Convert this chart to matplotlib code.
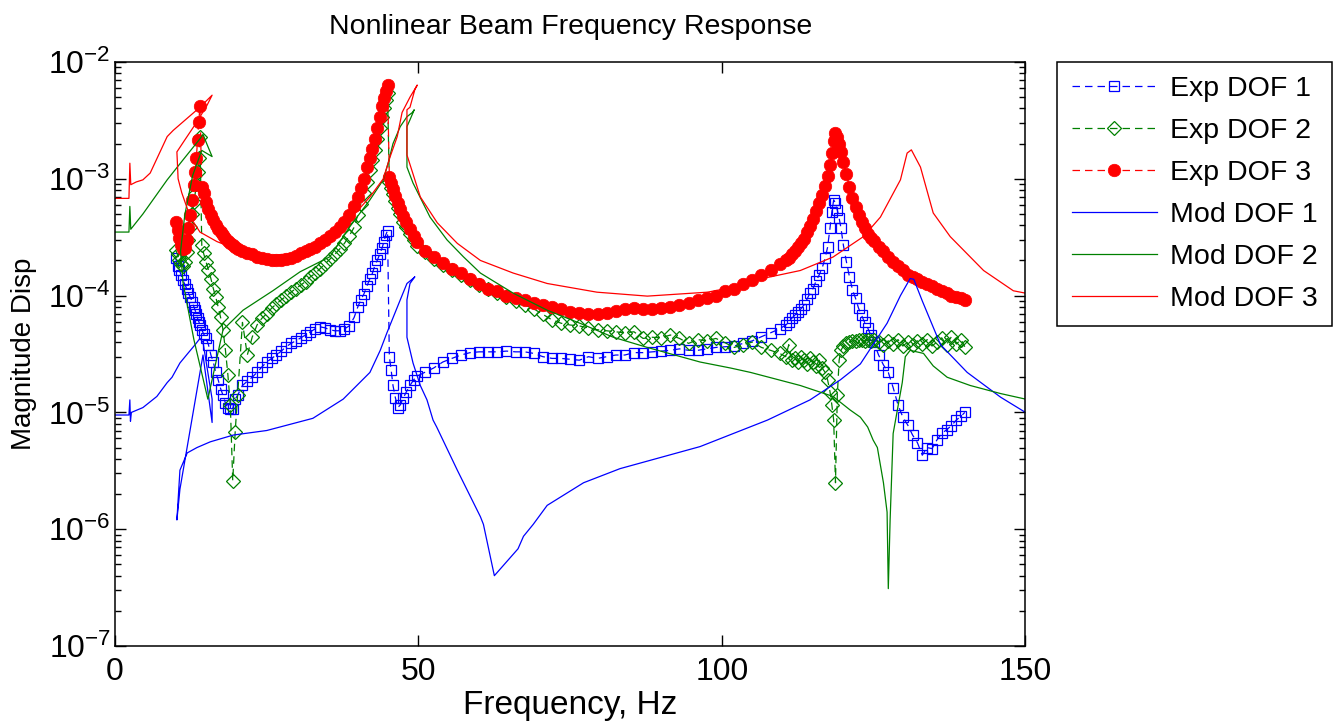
import matplotlib
matplotlib.use("Agg")
import matplotlib.pyplot as plt
from matplotlib.ticker import LogLocator, NullLocator, NullFormatter, FixedLocator

# experimental frequencies (shared by the three measured DOFs)
freq_exp = [
    10.0, 10.3, 10.6, 10.9, 11.2, 11.5, 11.8, 12.1, 12.4, 12.7, 13.0, 13.2, 13.4, 13.6, 13.8, 14.0,
    14.3, 14.6, 15.0, 15.4, 15.8, 16.2, 16.6, 17.0, 17.4, 17.8, 18.2, 18.6, 19.0, 19.4, 19.8,
    20.2, 21.0, 21.8, 22.6, 23.4, 24.2, 25.0, 25.8, 26.6, 27.4, 28.2, 29.0, 29.8, 30.6, 31.4,
    32.2, 33.0, 33.8, 34.6, 35.4, 36.2, 37.0, 37.8, 38.6, 39.4,
    40.0, 40.5, 41.0, 41.5, 42.0, 42.4, 42.8, 43.2, 43.6, 44.0, 44.3, 44.6, 44.9,
    45.2, 45.5, 45.8, 46.2, 46.6, 47.0, 47.5, 48.0, 48.6, 49.2, 49.8,
    51.0, 52.5, 54.0, 55.5, 57.0, 58.5, 60.0, 61.5, 63.0, 64.5, 66.0, 67.5, 69.0, 70.5, 72.0,
    73.5, 75.0, 76.5, 78.0, 79.5, 81.0, 82.5, 84.0, 85.5, 87.0, 88.5, 90.0, 91.5, 93.0, 94.5,
    96.0, 97.5, 99.0, 100.5, 102.0, 103.5, 105.0, 106.5, 108.0, 109.5,
    110.5, 111.0, 111.5, 112.0, 112.5, 113.0, 113.5, 114.0, 114.5, 115.0, 115.5, 116.0, 116.5,
    117.0, 117.4, 117.8, 118.1, 118.4, 118.7, 119.0, 119.3, 119.6, 120.0, 120.5, 121.0, 121.5,
    122.0, 122.5, 123.0, 123.5, 124.0, 124.5, 125.0,
    125.8, 126.6, 127.4, 128.2, 129.0, 129.8, 130.6, 131.4, 132.2, 133.0, 133.8, 134.6, 135.4,
    136.2, 137.0, 137.8, 138.6, 139.4, 140.0,
]

exp_dof1 = [
    2.1e-4, 1.8e-4, 1.65e-4, 1.5e-4, 1.35e-4, 1.25e-4, 1.15e-4, 1.05e-4, 9.7e-5, 8.9e-5, 8.0e-5, 7.5e-5, 7.0e-5, 6.4e-5, 6.0e-5, 5.6e-5,
    5.1e-5, 4.7e-5, 4.35e-5, 3.8e-5, 3.1e-5, 2.7e-5, 2.2e-5, 1.9e-5, 1.6e-5, 1.4e-5, 1.2e-5, 1.1e-5, 1.07e-5, 1.08e-5, 1.3e-5,
    1.4e-5, 1.7e-5, 1.85e-5, 2.0e-5, 2.2e-5, 2.45e-5, 2.7e-5, 2.9e-5, 3.1e-5, 3.35e-5, 3.65e-5, 3.9e-5, 4.1e-5, 4.35e-5, 4.6e-5,
    4.9e-5, 5.2e-5, 5.4e-5, 5.3e-5, 5.1e-5, 5.0e-5, 5.0e-5, 5.2e-5, 5.5e-5, 6.5e-5,
    8.0e-5, 9.2e-5, 1.03e-4, 1.2e-4, 1.4e-4, 1.55e-4, 1.8e-4, 2.0e-4, 2.25e-4, 2.55e-4, 2.9e-4, 3.3e-4, 3.6e-4,
    3.0e-5, 2.3e-5, 1.7e-5, 1.33e-5, 1.1e-5, 1.16e-5, 1.33e-5, 1.5e-5, 1.7e-5, 1.9e-5, 2.05e-5,
    2.2e-5, 2.4e-5, 2.7e-5, 2.9e-5, 3.1e-5, 3.25e-5, 3.3e-5, 3.3e-5, 3.3e-5, 3.35e-5, 3.3e-5, 3.3e-5, 3.2e-5, 3.0e-5, 2.9e-5,
    2.9e-5, 2.85e-5, 2.8e-5, 3.0e-5, 2.9e-5, 3.0e-5, 3.1e-5, 3.1e-5, 3.25e-5, 3.25e-5, 3.3e-5, 3.35e-5, 3.4e-5, 3.5e-5, 3.4e-5,
    3.4e-5, 3.5e-5, 3.6e-5, 3.65e-5, 3.7e-5, 3.9e-5, 4.1e-5, 4.45e-5, 4.8e-5, 5.2e-5,
    5.6e-5, 5.9e-5, 6.4e-5, 6.8e-5, 7.2e-5, 7.7e-5, 8.3e-5, 9.3e-5, 1.05e-4, 1.15e-4, 1.33e-4, 1.5e-4, 1.72e-4,
    2.1e-4, 2.6e-4, 3.8e-4, 5.2e-4, 6.6e-4, 6.2e-4, 5.4e-4, 4.6e-4, 3.8e-4, 2.7e-4, 1.95e-4, 1.45e-4, 1.12e-4,
    9.5e-5, 7.8e-5, 6.8e-5, 5.9e-5, 5.3e-5, 4.6e-5, 4.0e-5,
    3.1e-5, 2.55e-5, 2.2e-5, 1.63e-5, 1.16e-5, 9.1e-6, 7.8e-6, 6.4e-6, 5.5e-6, 4.3e-6, 5.0e-6, 4.9e-6, 5.8e-6,
    6.6e-6, 7.1e-6, 7.7e-6, 8.6e-6, 9.3e-6, 1.0e-5,
]

exp_dof2 = [
    2.45e-4, 2.25e-4, 2.0e-4, 1.85e-4, 1.8e-4, 1.95e-4, 2.35e-4, 3.0e-4, 3.85e-4, 5.0e-4, 6.3e-4, 7.4e-4, 9.0e-4, 1.15e-3, 1.5e-3, 2.3e-3,
    2.7e-4, 2.3e-4, 1.95e-4, 1.65e-4, 1.4e-4, 1.15e-4, 9.7e-5, 8.0e-5, 6.5e-5, 5.1e-5, 3.4e-5, 2.1e-5, 1.16e-5, 2.6e-6, 6.8e-6,
    1.4e-5, 5.9e-5, 3.1e-5, 4.4e-5, 5.6e-5, 6.4e-5, 7.0e-5, 7.8e-5, 8.5e-5, 9.2e-5, 9.9e-5, 1.07e-4, 1.15e-4, 1.23e-4, 1.32e-4,
    1.45e-4, 1.55e-4, 1.7e-4, 1.87e-4, 2.05e-4, 2.25e-4, 2.5e-4, 2.8e-4, 3.25e-4, 3.85e-4,
    4.9e-4, 6.1e-4, 7.6e-4, 9.4e-4, 1.2e-3, 1.45e-3, 1.77e-3, 2.2e-3, 2.7e-3, 3.4e-3, 4.0e-3, 4.7e-3, 5.4e-3,
    9.4e-4, 8.3e-4, 7.4e-4, 6.5e-4, 5.6e-4, 5.0e-4, 4.3e-4, 3.9e-4, 3.4e-4, 3.0e-4, 2.65e-4,
    2.35e-4, 2.05e-4, 1.83e-4, 1.65e-4, 1.5e-4, 1.36e-4, 1.23e-4, 1.13e-4, 1.05e-4, 9.7e-5, 9.0e-5, 8.3e-5, 7.7e-5, 6.9e-5, 6.2e-5,
    5.8e-5, 5.6e-5, 5.5e-5, 5.3e-5, 5.1e-5, 5.0e-5, 4.9e-5, 4.8e-5, 4.9e-5, 4.3e-5, 4.4e-5, 4.35e-5, 4.6e-5, 4.3e-5, 3.9e-5,
    4.2e-5, 4.1e-5, 4.3e-5, 3.95e-5, 3.6e-5, 3.8e-5, 4.0e-5, 3.6e-5, 3.4e-5, 3.2e-5,
    3.0e-5, 3.8e-5, 2.8e-5, 2.9e-5, 2.7e-5, 3.0e-5, 2.8e-5, 2.6e-5, 2.9e-5, 2.7e-5, 2.5e-5, 2.8e-5, 2.4e-5,
    2.2e-5, 1.9e-5, 1.5e-5, 1.16e-5, 8.6e-6, 2.5e-6, 1.4e-5, 2.8e-5, 3.4e-5, 3.7e-5, 3.95e-5, 4.0e-5, 4.1e-5,
    4.1e-5, 4.2e-5, 4.2e-5, 4.1e-5, 4.2e-5, 4.1e-5, 4.2e-5,
    4.0e-5, 3.8e-5, 4.1e-5, 3.85e-5, 4.2e-5, 3.7e-5, 4.0e-5, 3.8e-5, 4.1e-5, 3.85e-5, 4.2e-5, 3.7e-5, 4.0e-5,
    4.35e-5, 3.8e-5, 4.45e-5, 3.85e-5, 4.2e-5, 3.65e-5,
]

exp_dof3 = [
    4.3e-4, 3.65e-4, 3.1e-4, 2.7e-4, 2.5e-4, 2.55e-4, 3.0e-4, 3.8e-4, 4.9e-4, 6.6e-4, 8.9e-4, 1.15e-3, 1.5e-3, 2.15e-3, 3.05e-3, 4.2e-3,
    8.5e-4, 7.6e-4, 6.3e-4, 5.5e-4, 4.9e-4, 4.45e-4, 4.0e-4, 3.7e-4, 3.5e-4, 3.3e-4, 3.1e-4, 2.95e-4, 2.8e-4, 2.7e-4, 2.6e-4,
    2.5e-4, 2.4e-4, 2.3e-4, 2.25e-4, 2.15e-4, 2.1e-4, 2.05e-4, 2.0e-4, 2.0e-4, 2.0e-4, 2.05e-4, 2.1e-4, 2.2e-4, 2.3e-4, 2.4e-4,
    2.5e-4, 2.6e-4, 2.8e-4, 3.0e-4, 3.25e-4, 3.5e-4, 3.85e-4, 4.25e-4, 4.9e-4, 5.85e-4,
    7.0e-4, 8.3e-4, 1.0e-3, 1.25e-3, 1.5e-3, 1.8e-3, 2.2e-3, 2.7e-3, 3.4e-3, 4.2e-3, 4.9e-3, 5.65e-3, 6.35e-3,
    1.04e-3, 9.2e-4, 8.2e-4, 7.1e-4, 6.2e-4, 5.5e-4, 4.8e-4, 4.25e-4, 3.7e-4, 3.25e-4, 2.9e-4,
    2.4e-4, 2.15e-4, 1.9e-4, 1.7e-4, 1.55e-4, 1.4e-4, 1.25e-4, 1.15e-4, 1.1e-4, 1.0e-4, 9.6e-5, 9.2e-5, 8.6e-5, 8.3e-5, 8.0e-5,
    7.7e-5, 7.2e-5, 7.1e-5, 7.0e-5, 7.0e-5, 7.1e-5, 7.4e-5, 7.7e-5, 7.8e-5, 7.7e-5, 7.7e-5, 7.8e-5, 8.0e-5, 8.3e-5, 8.6e-5,
    9.2e-5, 9.6e-5, 1.0e-4, 1.1e-4, 1.15e-4, 1.25e-4, 1.35e-4, 1.5e-4, 1.65e-4, 1.85e-4,
    2.0e-4, 2.1e-4, 2.25e-4, 2.4e-4, 2.6e-4, 2.8e-4, 3.05e-4, 3.5e-4, 3.95e-4, 4.5e-4, 5.3e-4, 6.2e-4, 7.3e-4,
    8.7e-4, 1.05e-3, 1.3e-3, 1.65e-3, 2.1e-3, 2.45e-3, 2.3e-3, 2.0e-3, 1.7e-3, 1.4e-3, 1.1e-3, 8.5e-4, 6.8e-4,
    5.75e-4, 4.9e-4, 4.25e-4, 3.8e-4, 3.4e-4, 3.1e-4, 2.95e-4,
    2.6e-4, 2.4e-4, 2.15e-4, 1.95e-4, 1.8e-4, 1.65e-4, 1.5e-4, 1.45e-4, 1.4e-4, 1.3e-4, 1.25e-4, 1.2e-4, 1.15e-4,
    1.1e-4, 1.05e-4, 1.0e-4, 9.8e-5, 9.5e-5, 9.2e-5,
]

# model curves (continuation solutions, so frequency can step backwards at folds)
mod_freq1 = [0.0, 2.3, 2.45, 2.55, 2.7, 4.6, 6.9, 8.6, 9.4, 10.7, 12.0, 13.2, 14.0, 14.5, 16.0,
             16.0, 14.5, 10.7, 10.2, 10.7, 11.9, 13.5, 15.7, 19.5, 25.0, 32.6, 37.6, 42.0, 43.7, 44.8,
             47.0, 48.1, 49.1, 49.4, 48.6, 48.1, 48.1, 49.1, 50.3, 51.4, 52.4, 53.0, 56.4, 60.2, 60.7,
             62.5, 66.4, 67.3, 68.9, 71.2, 77.2, 83.2, 96.4, 107.5, 114.5, 119.5, 122.8, 127.2, 129.4, 131.0,
             131.6, 133.0, 136.0, 140.4, 145.9, 150.0]
mod_dof1 = [9.5e-6, 9.5e-6, 1.28e-5, 8.4e-6, 1.0e-5, 1.1e-5, 1.37e-5, 1.8e-5, 2.0e-5, 2.65e-5, 3.2e-5, 3.8e-5, 4.3e-5, 4.0e-5, 1.3e-5,
            8.2e-6, 3.1e-5, 2.2e-6, 1.2e-6, 3.2e-6, 4.5e-6, 5.0e-6, 5.6e-6, 6.4e-6, 7.0e-6, 8.9e-6, 1.3e-5, 2.2e-5, 3.4e-5, 4.8e-5,
            9.2e-5, 1.27e-4, 1.4e-4, 1.45e-4, 1.27e-4, 9.2e-5, 4.4e-5, 2.65e-5, 1.7e-5, 1.28e-5, 8.6e-6, 7.5e-6, 3.2e-6, 1.28e-6, 1.1e-6,
            4.0e-7, 6.8e-7, 8.7e-7, 1.1e-6, 1.6e-6, 2.5e-6, 3.3e-6, 5.1e-6, 8.6e-6, 1.28e-5, 1.9e-5, 2.6e-5, 5.8e-5, 1.0e-4, 1.4e-4,
            1.38e-4, 9.0e-5, 3.8e-5, 2.2e-5, 1.35e-5, 1.0e-5]

mod_freq2 = [0.0, 2.3, 2.45, 2.6, 4.6, 8.6, 11.2, 14.0, 14.5, 15.2, 16.0, 14.3, 12.8, 11.5, 10.8,
             11.2, 13.0, 15.3, 17.8, 21.1, 26.0, 30.5, 35.4, 38.7, 42.0, 44.2, 45.0, 45.8, 47.0, 48.1,
             49.0, 49.3, 48.6, 48.1, 48.1, 49.1, 51.9, 54.7, 57.4, 60.2, 63.0, 65.6, 71.2, 76.6, 82.1,
             87.7, 96.4, 101.4, 104.7, 112.9, 118.3, 121.1, 122.8, 124.0, 124.9, 125.6, 126.6, 127.2, 127.4, 127.7,
             128.2, 129.7, 130.2, 131.0, 133.2, 134.8, 137.1, 140.9, 145.9, 150.0]
mod_dof2 = [3.5e-4, 3.5e-4, 5.8e-4, 3.7e-4, 5.0e-4, 9.8e-4, 1.45e-3, 2.2e-3, 2.4e-3, 1.95e-3, 1.55e-3, 1.75e-3, 1.07e-3, 4.9e-4, 2.4e-4,
            1.3e-4, 4.2e-5, 1.3e-5, 5.1e-5, 7.5e-5, 1.1e-4, 1.6e-4, 2.15e-4, 3.9e-4, 6.6e-4, 9.8e-4, 1.36e-3, 2.0e-3, 2.8e-3, 3.4e-3,
            3.7e-3, 3.9e-3, 3.2e-3, 2.8e-3, 1.26e-3, 9.2e-4, 4.7e-4, 3.0e-4, 2.15e-4, 1.56e-4, 1.27e-4, 1.05e-4, 7.5e-5, 5.8e-5, 4.4e-5,
            3.6e-5, 2.7e-5, 2.4e-5, 2.2e-5, 1.7e-5, 1.37e-5, 1.05e-5, 9.1e-6, 7.5e-6, 5.8e-6, 5.0e-6, 2.5e-6, 1.4e-6, 3.1e-7, 1.2e-6,
            6.6e-6, 1.8e-5, 3.0e-5, 3.4e-5, 3.2e-5, 2.5e-5, 2.0e-5, 1.7e-5, 1.45e-5, 1.3e-5]

mod_freq3 = [0.0, 2.3, 2.45, 2.6, 3.5, 4.6, 5.8, 8.6, 9.6, 11.9, 14.0, 16.0, 15.2, 13.5, 11.5,
             10.2, 10.4, 11.0, 12.4, 14.0, 16.8, 20.0, 25.0, 30.0, 33.0, 35.4, 38.7, 42.0, 44.2, 45.3,
             46.5, 47.3, 48.6, 49.8, 49.4, 48.6, 48.1, 48.1, 49.1, 50.3, 53.1, 56.4, 60.2, 65.6, 71.2,
             79.4, 87.7, 97.6, 101.9, 107.5, 112.9, 118.3, 123.3, 126.1, 129.4, 130.5, 131.2, 132.7, 134.8, 137.6,
             143.1, 148.0, 150.0]
mod_dof3 = [6.8e-4, 6.8e-4, 1.36e-3, 8.9e-4, 9.4e-4, 9.8e-4, 1.12e-3, 2.3e-3, 2.6e-3, 3.3e-3, 4.1e-3, 5.2e-3, 4.3e-3, 3.07e-3, 2.15e-3,
            1.7e-3, 1.0e-3, 7.6e-4, 4.7e-4, 3.5e-4, 2.9e-4, 2.5e-4, 2.2e-4, 2.3e-4, 2.6e-4, 3.1e-4, 4.5e-4, 7.0e-4, 1.0e-3, 1.53e-3,
            2.3e-3, 3.7e-3, 5.0e-3, 6.35e-3, 5.8e-3, 4.1e-3, 3.9e-3, 1.6e-3, 1.1e-3, 7.0e-4, 4.2e-4, 2.8e-4, 2.0e-4, 1.56e-4, 1.27e-4,
            1.07e-4, 9.9e-5, 1.07e-4, 1.18e-4, 1.43e-4, 1.64e-4, 2.14e-4, 3.2e-4, 4.7e-4, 9.8e-4, 1.66e-3, 1.77e-3, 1.26e-3, 5.1e-4, 3.2e-4,
            1.64e-4, 1.1e-4, 1.05e-4]

x_ticks = [0, 50, 100, 150]

plt.rcParams['font.family'] = ['Liberation Sans', 'DejaVu Sans']
plt.rcParams['mathtext.default'] = 'regular'

fig = plt.figure(figsize=(13.37, 7.21), dpi=100)
ax = fig.add_axes([0.086, 0.104, 0.681, 0.810])

blue, green, red = '#0000ff', '#008000', '#ff0000'
dash = (6, 4)

#measured data
ax.plot(freq_exp, exp_dof1, ls='--', dashes=dash, color=blue, lw=0.9,
        marker='s', ms=7, mfc='none', mec=blue, mew=0.9, label='Exp DOF 1')
ax.plot(freq_exp, exp_dof2, ls='--', dashes=dash, color=green, lw=0.9,
        marker='D', ms=7, mfc='none', mec=green, mew=0.9, label='Exp DOF 2')
ax.plot(freq_exp, exp_dof3, ls='--', dashes=dash, color=red, lw=0.9,
        marker='o', ms=9, mfc=red, mec=red, mew=0.5, label='Exp DOF 3')

#model predictions
ax.plot(mod_freq1, mod_dof1, color=blue, lw=0.9, label='Mod DOF 1')
ax.plot(mod_freq2, mod_dof2, color=green, lw=0.9, label='Mod DOF 2')
ax.plot(mod_freq3, mod_dof3, color=red, lw=0.9, label='Mod DOF 3')

ax.set_yscale('log')
ax.set_xlim(0, 150)
ax.set_ylim(1e-7, 1e-2)
ax.xaxis.set_major_locator(FixedLocator(x_ticks))
ax.xaxis.set_minor_locator(NullLocator())
ax.yaxis.set_major_locator(LogLocator(base=10, numticks=10))
ax.yaxis.set_minor_locator(LogLocator(base=10, subs=range(2, 10), numticks=10))
ax.yaxis.set_minor_formatter(NullFormatter())
ax.tick_params(which='both', direction='in', top=True, right=True, labelsize=23, width=1)
ax.tick_params(which='major', length=8)
ax.tick_params(which='minor', length=4)
ax.tick_params(axis='x', pad=8)
ax.tick_params(axis='y', pad=3)
for s in ax.spines.values():
    s.set_linewidth(1.1)

ax.set_xlabel('Frequency, Hz', fontsize=24, labelpad=2)
ax.set_ylabel('Magnitude Disp', fontsize=20, labelpad=8)
ax.set_title('Nonlinear Beam Frequency Response', fontsize=20.5, pad=20)

leg = ax.legend(loc='upper left', bbox_to_anchor=(1.035, 1.0), borderaxespad=0,
                fontsize=20.5, fancybox=False, edgecolor='black', framealpha=1,
                handlelength=3.0, labelspacing=0.56, borderpad=0.5, handletextpad=0.45)
leg.get_frame().set_linewidth(1.1)

fig.savefig('out.png', dpi=100)
